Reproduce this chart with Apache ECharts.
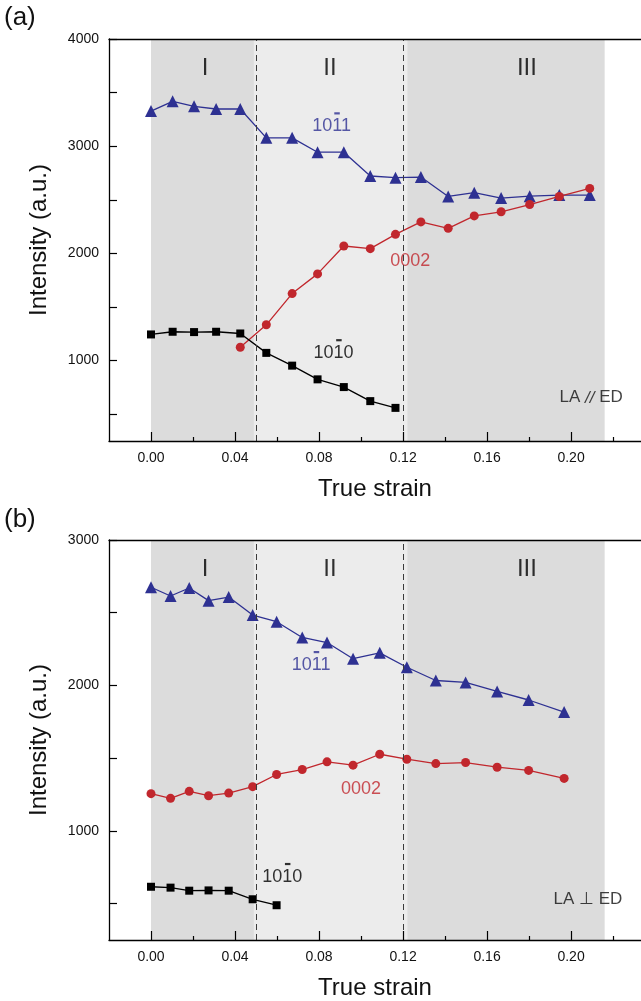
<!DOCTYPE html>
<html>
<head>
<meta charset="utf-8">
<script src="https://cdn.jsdelivr.net/npm/echarts@6/dist/echarts.min.js"></script>
<style>
  html, body { margin: 0; padding: 0; background: #fff; }
  #chart { width: 641px; height: 1001px; }
</style>
</head>
<body>
<div id="chart"></div>
<script>
// ---- (a) LA // ED ----
const strainA = [0, 0.0103, 0.0205, 0.031, 0.0425, 0.0549, 0.0672, 0.0793, 0.0918, 0.1044,
                 0.1164, 0.1285, 0.1415, 0.1539, 0.1667, 0.1803, 0.1944, 0.2089];
const pyr1011A = [3328, 3419, 3372, 3347, 3347, 3078, 3078, 2944, 2944, 2722,
                  2706, 2712, 2531, 2566, 2516, 2534, 2544, 2544];
const basal0002A = [1125, 1334, 1625, 1809, 2069, 2044, 2178, 2294, 2234, 2350,
                    2388, 2456, 2531, 2606];          // from strainA[4] on
const prism1010A = [1244, 1269, 1266, 1269, 1253, 1072, 953, 825, 753, 622, 559];

// ---- (b) LA ⊥ ED ----
const strainB = [0, 0.0093, 0.0182, 0.0274, 0.037, 0.0484, 0.0598, 0.072, 0.0838, 0.0962,
                 0.1089, 0.1218, 0.1356, 0.1498, 0.1648, 0.1798, 0.1967];
const pyr1011B = [2675, 2615, 2670, 2583, 2608, 2484, 2438, 2330, 2295, 2184,
                  2224, 2125, 2034, 2021, 1959, 1900, 1817];
const basal0002B = [1256, 1224, 1272, 1242, 1260, 1304, 1388, 1422, 1475, 1452,
                    1527, 1493, 1463, 1470, 1438, 1416, 1361];
const prism1010B = [616, 610, 589, 591, 589, 530, 489];

// deformation stages
const stageBounds = [0, 0.049, 0.122, 0.216];
const stageNames = ['I', 'II', 'III'];

// axis ticks
const xMajorTicks = [0, 0.04, 0.08, 0.12, 0.16, 0.20];
const xMinorTicks = [0.02, 0.06, 0.10, 0.14, 0.18, 0.22];
const xTickLabels = [0, 0.04, 0.08, 0.12, 0.16, 0.20];
const yTicksA = [500, 1000, 1500, 2000, 2500, 3000, 3500, 4000];
const yLabelsA = [1000, 2000, 3000, 4000];
const yTicksB = [500, 1000, 1500, 2000, 2500, 3000];
const yLabelsB = [1000, 2000, 3000];

const FONT = '"Liberation Sans", Arial, sans-serif';
const BLUE = '#2e3192';
const RED = '#c1272d';
const BLACK = '#000000';

function pairs(xs, ys, offset) {
  return ys.map((y, i) => [xs[i + offset], y]);
}

const X_MIN = -0.02, X_MAX = 0.2333;

function xAxes(grid) {
  return [
    {
      type: 'value', gridIndex: grid, min: X_MIN, max: X_MAX, position: 'bottom', z: 5,
      name: 'True strain', nameLocation: 'middle', nameGap: 36,
      nameTextStyle: { fontSize: 24, color: '#111', fontFamily: FONT },
      axisLine: { show: true, onZero: false, lineStyle: { color: '#000', width: 1.3 } },
      axisTick: { show: true, inside: true, length: 9, customValues: xMajorTicks, lineStyle: { color: '#000', width: 1.2 } },
      axisLabel: { show: true, customValues: xTickLabels, margin: 10, fontSize: 14, color: '#111',
                   fontFamily: FONT, formatter: v => v.toFixed(2) },
      splitLine: { show: false }
    },
    {
      type: 'value', gridIndex: grid, min: X_MIN, max: X_MAX, position: 'bottom', z: 5,
      axisLine: { show: false },
      axisTick: { show: true, inside: true, length: 4, customValues: xMinorTicks, lineStyle: { color: '#000', width: 1.2 } },
      axisLabel: { show: false },
      splitLine: { show: false }
    },
    {
      type: 'value', gridIndex: grid, min: X_MIN, max: X_MAX, position: 'top', z: 5,
      axisLine: { show: true, onZero: false, lineStyle: { color: '#000', width: 1.3 } },
      axisTick: { show: false }, axisLabel: { show: false }, splitLine: { show: false }
    }
  ];
}

function yAxis(grid, max, ticks, labels) {
  return {
    type: 'value', gridIndex: grid, min: 250, max: max, position: 'left', z: 5,
    name: 'Intensity (a.u.)', nameLocation: 'middle', nameGap: 58, nameRotate: 90,
    nameTextStyle: { fontSize: 24, color: '#111', fontFamily: FONT },
    axisLine: { show: true, onZero: false, lineStyle: { color: '#000', width: 1.3 } },
    axisTick: { show: true, inside: true, length: 8, customValues: ticks, lineStyle: { color: '#000', width: 1.2 } },
    axisLabel: { show: true, customValues: labels, margin: 10, fontSize: 14, color: '#111',
                 fontFamily: FONT, formatter: v => String(v) },
    splitLine: { show: false }
  };
}

function stageBackdrop(xIdx, yIdx) {
  const shades = ['#dcdcdc', '#ececec', '#dcdcdc'];
  return {
    type: 'line', xAxisIndex: xIdx, yAxisIndex: yIdx, data: [], silent: true, z: 1,
    markArea: {
      silent: true,
      data: stageNames.map((n, i) => [
        { xAxis: stageBounds[i], itemStyle: { color: shades[i] } },
        { xAxis: stageBounds[i + 1] }
      ])
    },
    markLine: {
      silent: true, symbol: 'none', label: { show: false },
      lineStyle: { type: [6, 4], color: '#3a3a3a', width: 1 },
      data: [{ xAxis: stageBounds[1] }, { xAxis: stageBounds[2] }]
    }
  };
}

function curve(xIdx, yIdx, data, symbol, size, color) {
  return {
    type: 'line', xAxisIndex: xIdx, yAxisIndex: yIdx, data: data, z: 3,
    symbol: symbol, symbolSize: size, showSymbol: true,
    lineStyle: { color: color, width: 1.3 },
    itemStyle: { color: color, borderColor: color, borderWidth: 0 }
  };
}

// Text annotations; items flagged with `bar` also get the Miller-Bravais
// overbar drawn above their third index.
function annotations(xIdx, yIdx, items) {
  const data = [];
  items.forEach(it => {
    data.push({
      name: it.text, value: it.at,
      label: Object.assign({ color: it.color, fontSize: it.size, fontFamily: FONT }, it.extra || {})
    });
    if (it.bar) {
      data.push({
        name: '', value: it.at,
        label: {
          formatter: '{b| }', offset: [5.4, -13],
          rich: { b: { width: 5.5, height: 2.2, lineHeight: 2.2, fontSize: 2, backgroundColor: it.color } }
        }
      });
    }
  });
  return {
    type: 'scatter', xAxisIndex: xIdx, yAxisIndex: yIdx, silent: true, z: 4,
    symbolSize: 1, itemStyle: { color: 'rgba(0,0,0,0)' },
    label: { show: true, position: 'inside', formatter: p => p.name, fontFamily: FONT },
    data: data
  };
}

const laParallel = {
  formatter: 'LA {i|//} ED',
  rich: { i: { fontStyle: 'italic', fontSize: 17, color: '#111', fontFamily: FONT } }
};

const notesA = [
  { text: 'I', at: [0.0257, 3728], color: '#000', size: 24 },
  { text: 'II', at: [0.0852, 3728], color: '#000', size: 24 },
  { text: 'III', at: [0.179, 3728], color: '#000', size: 24 },
  { text: '1011', at: [0.086, 3185], color: BLUE, size: 18, bar: true },
  { text: '0002', at: [0.1234, 1925], color: RED, size: 18 },
  { text: '1010', at: [0.0869, 1069], color: BLACK, size: 18, bar: true },
  { text: 'LA // ED', at: [0.2096, 653], color: '#111', size: 17, extra: laParallel }
];
const notesB = [
  { text: 'I', at: [0.0257, 2800], color: '#000', size: 24 },
  { text: 'II', at: [0.0852, 2800], color: '#000', size: 24 },
  { text: 'III', at: [0.179, 2800], color: '#000', size: 24 },
  { text: '1011', at: [0.0762, 2140], color: BLUE, size: 18, bar: true },
  { text: '0002', at: [0.100, 1285], color: RED, size: 18 },
  { text: '1010', at: [0.0625, 683], color: BLACK, size: 18, bar: true },
  { text: 'LA \u22A5 ED', at: [0.208, 527], color: '#111', size: 17 }
];

const chart = echarts.init(document.getElementById('chart'), null, { renderer: 'canvas' });
chart.setOption({
  animation: false,
  backgroundColor: '#ffffff',
  textStyle: { fontFamily: FONT },
  grid: [
    { left: 109, top: 39, right: 0, height: 402 },
    { left: 109, top: 540, right: 0, height: 401.5 }
  ],
  xAxis: [...xAxes(0), ...xAxes(1)],
  yAxis: [yAxis(0, 4000, yTicksA, yLabelsA), yAxis(1, 3000, yTicksB, yLabelsB)],
  series: [
    stageBackdrop(0, 0),
    curve(0, 0, pairs(strainA, pyr1011A, 0), 'triangle', 12, BLUE),
    curve(0, 0, pairs(strainA, basal0002A, 4), 'circle', 9, RED),
    curve(0, 0, pairs(strainA, prism1010A, 0), 'rect', 8, BLACK),
    annotations(0, 0, notesA),
    stageBackdrop(3, 1),
    curve(3, 1, pairs(strainB, pyr1011B, 0), 'triangle', 12, BLUE),
    curve(3, 1, pairs(strainB, basal0002B, 0), 'circle', 9, RED),
    curve(3, 1, pairs(strainB, prism1010B, 0), 'rect', 8, BLACK),
    annotations(3, 1, notesB)
  ],
  graphic: [
    { type: 'text', left: 4, top: 5, style: { text: '(a)', font: '26px ' + FONT, fill: '#111' } },
    { type: 'text', left: 4, top: 507, style: { text: '(b)', font: '26px ' + FONT, fill: '#111' } }
  ]
});
</script>
</body>
</html>
